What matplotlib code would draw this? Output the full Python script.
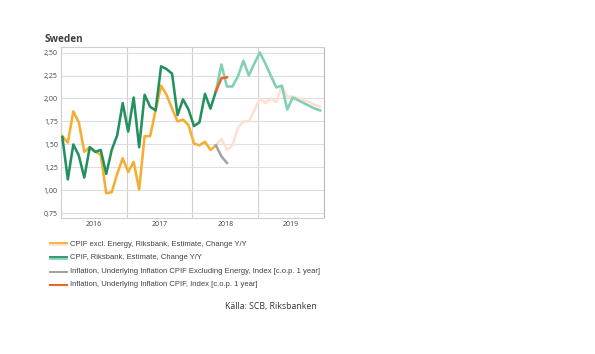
import matplotlib
matplotlib.use("Agg")
import matplotlib.pyplot as plt
from matplotlib.lines import Line2D
import numpy as np

# Monthly data, index 0 = Jan 2016
cpif_excl_energy = [1.59, 1.52, 1.86, 1.74, 1.42, 1.47, 1.42, 1.39, 0.97, 0.98, 1.18, 1.35,
                    1.20, 1.31, 1.01, 1.59, 1.59, 1.87, 2.14, 2.04, 1.89, 1.75, 1.77, 1.71,
                    1.51, 1.49, 1.53, 1.44, 1.49]
cpif_excl_energy_forecast = [1.49, 1.56, 1.44, 1.49, 1.68, 1.75, 1.75, 1.87, 2.00,
                             1.95, 2.00, 1.96, 2.14, 2.02, 2.02, 2.00, 1.98, 1.96, 1.93, 1.91]
cpif = [1.58, 1.12, 1.50, 1.38, 1.14, 1.47, 1.42, 1.44, 1.18, 1.44, 1.60, 1.95,
        1.64, 2.01, 1.47, 2.04, 1.91, 1.87, 2.35, 2.32, 2.27, 1.82, 1.99, 1.88,
        1.70, 1.74, 2.05, 1.89, 2.08]
cpif_forecast = [2.08, 2.37, 2.13, 2.13, 2.24, 2.41, 2.25, 2.38, 2.50,
                 2.38, 2.25, 2.12, 2.14, 1.88, 2.01, 1.98, 1.95, 1.92, 1.89, 1.87]
underlying_excl_energy = [1.49, 1.37, 1.30]   # months 28-30
underlying_cpif = [2.08, 2.22, 2.23]          # months 28-30
year_labels = ["2016", "2017", "2018", "2019"]
y_ticks = [0.75, 1.00, 1.25, 1.50, 1.75, 2.00, 2.25, 2.50]

C_ORANGE = "#f5ae33"
C_PEACH = "#fde0d2"
C_GREEN = "#22915f"
C_TEAL = "#80d0b4"
C_GRAY = "#a3a3a3"
C_RED = "#e8672c"
TXT = "#404040"

fig = plt.figure(figsize=(5.95, 3.54), dpi=100)
ax = fig.add_axes([60.7/595, 1-218/354, (324-60.7)/595, (218-47)/354])

off = 0.3
def xs(start, n):
    return np.arange(start, start + n) + off

lw = 1.85
ax.plot(xs(28, len(cpif_excl_energy_forecast)), cpif_excl_energy_forecast, color=C_PEACH, lw=lw, zorder=2)
ax.plot(xs(28, len(cpif_forecast)), cpif_forecast, color=C_TEAL, lw=lw, zorder=2)
ax.plot(xs(0, len(cpif_excl_energy)), cpif_excl_energy, color=C_ORANGE, lw=lw, zorder=3)
ax.plot(xs(0, len(cpif)), cpif, color=C_GREEN, lw=lw, zorder=4)
ax.plot(xs(28, len(underlying_excl_energy)), underlying_excl_energy, color=C_GRAY, lw=lw, zorder=5)
ax.plot(xs(28, len(underlying_cpif)), underlying_cpif, color=C_RED, lw=lw, zorder=5)

ax.set_xlim(0, 48)
ax.set_ylim(0.70, 2.56)
ax.set_yticks(y_ticks)
ax.set_yticklabels([f"{v:.2f}".replace(".", ",") for v in y_ticks])
ax.set_xticks([6, 18, 30, 42])
ax.set_xticklabels(year_labels)
ax.set_xticks([12, 24, 36], minor=True)
ax.tick_params(axis="both", which="both", length=0, labelsize=5, labelcolor=TXT, pad=2)
for lab in ax.get_xticklabels() + ax.get_yticklabels():
    lab.set_fontfamily("Open Sans")
ax.grid(axis="y", which="major", color="#dedede", lw=0.8)
ax.grid(axis="x", which="minor", color="#d0d0d0", lw=0.8)
ax.set_axisbelow(True)
for s in ax.spines.values():
    s.set_color("#cfcfcf")
    s.set_linewidth(0.8)
ax.spines["right"].set_color("#b8b8b8")

fig.text(45/595, 1-42/354, "Sweden", fontsize=7.2, fontweight="bold", color=TXT,
         family="Open Sans", ha="left", va="baseline")

# legend
entries = [
    ("CPIF excl. Energy, Riksbank, Estimate, Change Y/Y", [C_ORANGE, C_PEACH]),
    ("CPIF, Riksbank, Estimate, Change Y/Y", [C_GREEN, C_TEAL]),
    ("Inflation, Underlying Inflation CPIF Excluding Energy, Index [c.o.p. 1 year]", [C_GRAY]),
    ("Inflation, Underlying Inflation CPIF, Index [c.o.p. 1 year]", [C_RED]),
]
ys = [244, 257.5, 271.5, 284.5]
for (label, cols), y in zip(entries, ys):
    if len(cols) == 2:
        for c, dy in zip(cols, [-1.0, 1.0]):
            fig.add_artist(Line2D([50/595, 67/595], [1-(y+dy)/354]*2, color=c, lw=1.3))
    else:
        fig.add_artist(Line2D([50/595, 67/595], [1-y/354]*2, color=cols[0], lw=1.5))
    fig.text(70/595, 1-y/354, label, fontsize=5.5, color=TXT, family="Liberation Sans",
             ha="left", va="center")

fig.text(270.5/595, 1-306/354, "Källa: SCB, Riksbanken", fontsize=6.3, color="#333333",
         family="Open Sans", ha="center", va="center")

fig.savefig("out.png", dpi=100, facecolor="white")
